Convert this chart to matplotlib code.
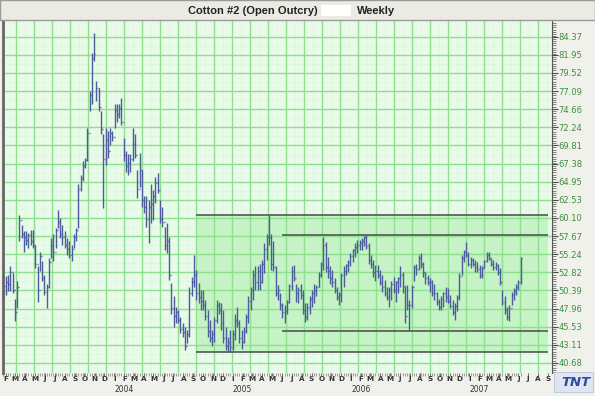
import matplotlib
matplotlib.use("Agg")
import matplotlib.pyplot as plt
import matplotlib.dates as mdates
from matplotlib.patches import Rectangle
from matplotlib.ticker import AutoMinorLocator, FixedLocator
import pandas as pd
import numpy as np

# ---------------- data ----------------
first_week = "2003-01-24"
highs = [52.3, 52.3, 52.5, 53.6, 52.7, 49.2, 51.6, 60.5, 59.2, 58.3,
         58.3, 58.1, 58.5, 58.5, 56.5, 53.6, 55.6, 54.3, 52.5, 51.2,
         54.7, 57.4, 57.9, 58.8, 61.2, 60.1, 59.2, 58.3, 57.4, 57.0,
         56.5, 57.9, 58.8, 64.6, 65.9, 67.7, 68.1, 72.2, 77.1, 82.2,
         84.9, 78.4, 77.5, 74.4, 71.3, 72.2, 71.7, 72.2, 71.7, 75.3,
         75.3, 75.3, 76.2, 70.8, 69.0, 68.6, 68.6, 72.2, 71.3, 66.5,
         68.8, 66.5, 63.0, 63.0, 62.5, 64.7, 63.8, 65.6, 66.1, 62.5,
         61.6, 58.9, 59.4, 57.6, 51.4, 49.6, 48.2, 47.8, 46.9, 46.0,
         45.5, 45.1, 50.9, 52.2, 55.1, 53.1, 51.4, 50.5, 50.5, 49.1,
         47.8, 46.4, 45.1, 46.9, 49.1, 48.9, 48.7, 47.8, 45.5, 44.2,
         45.1, 45.1, 47.3, 48.2, 46.4, 45.1, 45.5, 47.3, 49.6, 50.9,
         53.1, 53.6, 53.6, 54.0, 54.5, 56.7, 58.0, 60.5, 58.0, 57.0,
         53.6, 51.1, 50.0, 48.7, 48.4, 49.1, 51.3, 53.6, 53.8, 51.3,
         50.9, 51.3, 50.5, 48.7, 48.7, 49.6, 50.5, 51.3, 51.1, 52.9,
         54.2, 57.6, 56.9, 54.9, 53.6, 53.1, 52.0, 50.9, 50.2, 52.7,
         53.6, 54.0, 54.5, 55.4, 56.0, 56.7, 57.1, 57.1, 57.4, 57.7,
         57.8, 56.7, 55.1, 54.5, 53.8, 53.8, 53.1, 52.5, 51.8, 50.9,
         50.9, 51.6, 52.2, 51.6, 52.2, 53.6, 52.9, 51.0, 51.1, 49.1,
         51.1, 53.8, 54.0, 55.1, 55.4, 54.2, 52.9, 52.5, 52.0, 51.8,
         51.3, 50.2, 49.3, 49.6, 50.2, 50.9, 50.7, 49.8, 49.1, 48.7,
         49.8, 52.7, 55.1, 55.8, 56.9, 55.6, 54.9, 54.7, 54.5, 54.2,
         53.8, 53.6, 54.5, 55.6, 55.6, 54.7, 54.5, 54.2, 54.0, 53.4,
         50.5, 49.6, 48.2, 48.4, 50.2, 50.7, 51.3, 51.8, 54.9]
lows = [49.2, 49.8, 50.3, 50.3, 50.0, 46.3, 48.0, 57.0, 57.4, 55.6,
        56.5, 56.1, 56.5, 56.1, 53.4, 48.9, 53.0, 51.6, 49.8, 48.0,
        50.7, 54.7, 54.3, 56.1, 58.8, 57.4, 56.5, 56.1, 55.2, 54.7,
        54.3, 56.1, 57.0, 58.8, 63.7, 65.0, 66.8, 67.7, 74.4, 75.3,
        81.1, 75.7, 74.4, 71.3, 61.4, 67.2, 68.1, 69.9, 70.4, 72.2,
        73.0, 73.5, 72.6, 67.7, 66.3, 65.9, 66.3, 67.7, 68.1, 62.8,
        64.3, 61.6, 60.7, 58.9, 56.7, 59.4, 59.8, 62.1, 63.4, 59.4,
        58.9, 55.8, 55.4, 51.8, 47.3, 45.5, 46.0, 46.0, 44.7, 44.2,
        42.4, 43.3, 44.2, 49.6, 50.9, 49.1, 48.7, 47.8, 47.8, 46.4,
        44.2, 43.5, 42.9, 43.5, 46.0, 47.3, 45.1, 43.3, 42.4, 42.1,
        42.1, 42.4, 43.8, 45.5, 43.3, 42.6, 43.3, 44.7, 46.0, 47.8,
        49.1, 50.5, 50.5, 50.5, 51.4, 52.7, 54.5, 56.5, 53.1, 53.0,
        49.6, 49.1, 47.8, 46.7, 46.0, 47.3, 48.7, 50.5, 51.6, 48.9,
        48.7, 49.3, 47.3, 46.2, 46.4, 47.3, 48.2, 48.7, 49.6, 50.9,
        52.2, 53.1, 52.9, 52.0, 51.3, 50.9, 50.0, 49.1, 48.4, 48.9,
        50.9, 52.5, 52.9, 53.6, 54.2, 54.9, 55.4, 55.8, 55.8, 56.3,
        56.0, 54.0, 53.4, 52.2, 51.6, 52.0, 51.1, 50.2, 49.6, 49.1,
        48.2, 49.1, 50.0, 48.9, 50.0, 50.9, 50.0, 46.0, 47.8, 44.9,
        48.0, 51.6, 52.5, 53.1, 53.4, 52.2, 51.3, 51.1, 50.2, 49.6,
        49.1, 48.4, 47.8, 47.8, 48.2, 48.9, 48.7, 48.0, 47.1, 46.4,
        47.6, 49.1, 52.5, 54.2, 54.9, 53.6, 53.4, 53.6, 52.9, 52.9,
        52.0, 52.0, 53.4, 54.2, 54.5, 53.6, 53.1, 53.1, 52.5, 51.1,
        48.4, 47.3, 46.4, 46.3, 48.4, 49.1, 49.8, 50.5, 51.3]
closes = [51.0, 51.5, 51.2, 52.8, 50.5, 47.5, 50.9, 59.8, 58.0, 57.5,
          57.2, 57.8, 57.0, 56.5, 54.0, 50.5, 55.0, 52.0, 50.2, 50.8,
          54.2, 56.5, 55.5, 58.5, 59.5, 58.0, 57.5, 56.5, 56.0, 55.2,
          56.0, 57.5, 58.5, 64.0, 65.5, 67.0, 67.8, 71.5, 76.5, 81.5,
          82.0, 77.5, 75.0, 72.0, 68.0, 70.5, 69.0, 71.5, 71.0, 74.5,
          74.0, 74.8, 73.0, 68.5, 67.0, 67.5, 68.0, 70.0, 68.5, 64.0,
          66.5, 62.5, 61.5, 60.0, 61.5, 62.0, 63.0, 64.8, 63.8, 60.0,
          59.5, 56.5, 57.0, 52.5, 48.0, 47.0, 47.5, 46.5, 45.2, 44.8,
          43.0, 44.5, 50.0, 51.5, 52.5, 50.0, 49.5, 49.0, 48.5, 47.0,
          45.0, 44.0, 44.5, 46.5, 48.5, 47.8, 46.0, 44.0, 43.0, 43.5,
          42.8, 44.5, 46.5, 46.0, 44.0, 43.5, 45.0, 46.8, 49.0, 50.5,
          52.5, 51.5, 53.0, 51.5, 54.0, 56.0, 57.5, 57.5, 54.0, 53.5,
          50.0, 50.5, 48.5, 47.5, 47.8, 48.8, 51.0, 53.0, 52.0, 50.0,
          50.5, 49.8, 47.8, 46.8, 48.2, 49.2, 50.0, 50.5, 50.8, 52.5,
          54.0, 56.5, 53.5, 53.0, 52.0, 51.5, 50.5, 49.5, 49.8, 52.5,
          53.0, 53.8, 54.2, 55.0, 55.8, 56.2, 56.5, 56.8, 57.0, 57.5,
          56.3, 54.5, 54.0, 52.8, 53.0, 52.5, 51.5, 50.8, 50.0, 49.5,
          50.5, 51.2, 50.5, 51.5, 52.0, 52.5, 51.0, 47.0, 48.5, 48.5,
          50.8, 53.5, 53.2, 54.8, 54.0, 52.8, 52.0, 51.5, 51.5, 50.0,
          50.0, 48.8, 48.2, 49.3, 50.0, 49.5, 49.0, 48.3, 47.5, 48.3,
          49.5, 52.3, 54.8, 55.5, 55.2, 54.0, 54.5, 54.0, 53.5, 53.2,
          52.5, 53.4, 54.3, 55.2, 54.8, 54.0, 53.5, 53.8, 52.8, 51.5,
          48.8, 47.8, 46.8, 48.0, 49.8, 50.3, 50.9, 51.5, 54.7]

y_tick_labels = ["40.68", "43.11", "45.53", "47.96", "50.39", "52.82", "55.24",
                 "57.67", "60.10", "62.53", "64.95", "67.38", "69.81", "72.24",
                 "74.66", "77.09", "79.52", "81.95", "84.37"]
month_letters = ["I", "F", "M", "A", "M", "J", "J", "A", "S", "O", "N", "D"]
year_labels = ["2004", "2005", "2006", "2007"]
channel_outer = [60.5, 42.1]          # long channel lines (from late 2004)
channel_inner = [57.8, 44.9]          # inner channel lines (from mid 2005)
channel_outer_start = "2004-09-10"
channel_inner_start = "2005-06-03"
channel_end = "2007-09-01"
title_left = "Cotton #2 (Open Outcry)"
title_right = "Weekly"

# ---------------- figure ----------------
W, H = 595, 396
fig = plt.figure(figsize=(W / 100, H / 100), dpi=100)
fig.patch.set_facecolor("#f1f1ec")

ax_left, ax_right, ax_top, ax_bot = 3, 552, 21, 373
ax = fig.add_axes([ax_left / W, 1 - ax_bot / H, (ax_right - ax_left) / W,
                   (ax_bot - ax_top) / H])
ax.set_facecolor("#e8fae8")

dates = pd.date_range(first_week, periods=len(highs), freq="7D")
x = mdates.date2num(dates)
highs = np.array(highs)
lows = np.array(lows)
closes = np.array(closes)

x0 = x[0] - 1.5
x1 = x[0] + 241.85 * 7
ax.set_xlim(x0, x1)
ax.set_ylim(39.34, 86.47)

# channel shading
cs = mdates.date2num(pd.Timestamp(channel_outer_start))
ce = mdates.date2num(pd.Timestamp(channel_end))
ci = mdates.date2num(pd.Timestamp(channel_inner_start))
ax.add_patch(Rectangle((cs, channel_outer[1]), ce - cs,
                       channel_outer[0] - channel_outer[1],
                       facecolor="#c5f3c5", edgecolor="none", zorder=0.5))

# grid
yt = [float(v) for v in y_tick_labels]
for v in yt:
    ax.axhline(v, color="#8fdf8f", lw=1.0, zorder=1)
for a, b in zip(yt[:-1], yt[1:]):
    ax.axhline((a + b) / 2, color="#d2f2d2", lw=0.7, ls=(0, (1, 1.5)), zorder=0.8)
vg = x[0] + (5.3 + 7.94 * np.arange(0, 31)) * 7
for v in vg:
    if v < x1:
        ax.axvline(v, color="#8fdf8f", lw=1.0, zorder=1)
        ax.axvline(v + 3.97 * 7, color="#d2f2d2", lw=0.7, ls=(0, (1, 1.5)), zorder=0.8)

# channel lines
for lvl in channel_outer:
    ax.hlines(lvl, cs, ce, color="#555555", lw=1.2, zorder=2)
for lvl in channel_inner:
    ax.hlines(lvl, ci, ce, color="#555555", lw=1.2, zorder=2)

# OHLC bars
bar_col = "#4d5c9c"
ax.vlines(x, lows, highs, color=bar_col, lw=1.0, zorder=3)
ax.hlines(closes, x, x + 3, color=bar_col, lw=1.0, zorder=3)
ax.hlines(closes[:-1], x[1:] - 3, x[1:], color=bar_col, lw=1.0, zorder=3)

# y axis on right
ax.yaxis.tick_right()
ax.set_yticks(yt)
ax.set_yticklabels(y_tick_labels)
ax.yaxis.set_minor_locator(AutoMinorLocator(8))
ax.tick_params(axis="y", which="major", length=4, width=0.8, color="#444444",
               labelsize=6, labelcolor="#3b8f3b", pad=0.5)
ax.tick_params(axis="y", which="minor", length=3, width=0.5, color="#555555")

# x axis: months
months = pd.date_range("2003-02-01", "2007-09-01", freq="MS")
mx = mdates.date2num(months)
ax.set_xticks(mx)
ax.set_xticklabels([month_letters[m.month - 1] for m in months])
ax.xaxis.set_minor_locator(FixedLocator(x))
ax.tick_params(axis="x", which="major", length=2, width=0.6, color="#555555",
               labelsize=5.2, labelcolor="#333333", pad=0.5)
for lab in ax.get_xticklabels():
    lab.set_fontweight("bold")
ax.tick_params(axis="x", which="minor", length=2, width=0.5, color="#777777")

for yl in year_labels:
    xd = mdates.date2num(pd.Timestamp(f"{yl}-01-01"))
    ax.text(xd, -0.046, yl, transform=ax.get_xaxis_transform(),
            ha="left", va="center", fontsize=5.5, color="#333333")

for s in ["top", "bottom"]:
    ax.spines[s].set_visible(False)
ax.spines["left"].set_color("#666666")
ax.spines["left"].set_linewidth(2)
ax.spines["right"].set_color("#555555")
ax.spines["right"].set_linewidth(0.8)

# title bar
fig.patches.append(Rectangle((0, 1 - 20 / H), 1, 20 / H, transform=fig.transFigure,
                             facecolor="#ecebe3", edgecolor="#9a9a9a", lw=1))
fig.patches.append(Rectangle((321 / W, 1 - 16 / H), 30 / W, 11 / H,
                             transform=fig.transFigure, facecolor="white",
                             edgecolor="none"))
tfam = ["Liberation Sans Narrow", "Liberation Sans", "DejaVu Sans"]
fig.text(318 / W, 1 - 10.5 / H, title_left, ha="right", va="center",
         fontsize=8, fontweight="bold", family=tfam, color="#222222")
fig.text(357 / W, 1 - 10.5 / H, title_right, ha="left", va="center",
         fontsize=8, fontweight="bold", family=tfam, color="#222222")

# logo
fig.patches.append(Rectangle((554 / W, 1 - 392 / H), 39 / W, 20 / H,
                             transform=fig.transFigure, facecolor="#dfe6f2",
                             edgecolor="#b8c4dc", lw=0.6))
fig.text(576 / W, 1 - 382 / H, "TNT", ha="center", va="center", fontsize=9.5,
         fontweight="bold", style="italic", color="#2b4da0")

fig.savefig("out.png", dpi=100, facecolor=fig.get_facecolor())
